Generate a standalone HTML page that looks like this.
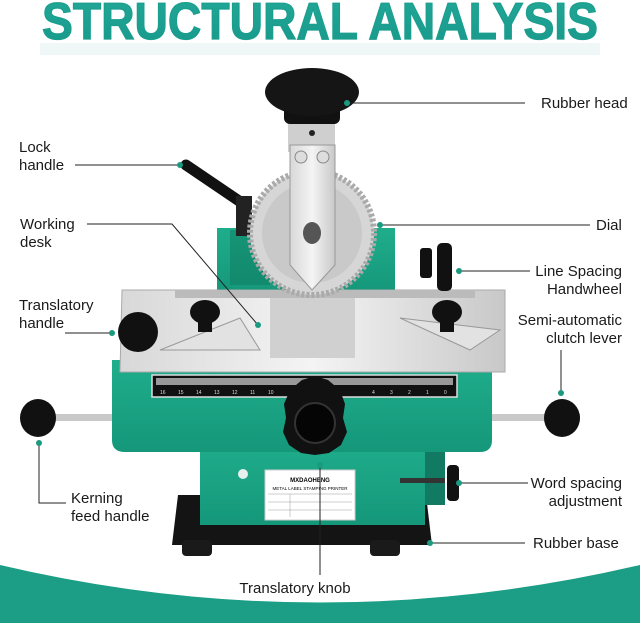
<!DOCTYPE html>
<html><head><meta charset="utf-8"><style>
html,body{margin:0;padding:0;background:#fff}
svg{display:block}
text{font-family:"Liberation Sans",sans-serif}
.l{font-size:15px;fill:#1a1a1a}
</style></head><body>
<svg width="640" height="623" viewBox="0 0 640 623" xmlns="http://www.w3.org/2000/svg">
<defs>
<linearGradient id="ti" x1="0" y1="0" x2="0" y2="1"><stop offset="0" stop-color="#22a898"/><stop offset="1" stop-color="#17988a"/></linearGradient>
<linearGradient id="sil" x1="0" y1="0" x2="1" y2="0"><stop offset="0" stop-color="#d8d8d8"/><stop offset=".5" stop-color="#f4f4f4"/><stop offset="1" stop-color="#c8c8c8"/></linearGradient>
<linearGradient id="gr" x1="0" y1="0" x2="0" y2="1"><stop offset="0" stop-color="#1fae8c"/><stop offset="1" stop-color="#15977a"/></linearGradient>
</defs>
<text x="320" y="39" text-anchor="middle" font-size="52" font-weight="bold" fill="url(#ti)" stroke="#1a9e8e" stroke-width="1.2" textLength="556" lengthAdjust="spacingAndGlyphs">STRUCTURAL ANALYSIS</text>
<rect x="40" y="43" width="560" height="12" fill="#e6f3f1" opacity=".6"/>
<path d="M0 565 Q320 640 640 565 L640 623 L0 623 Z" fill="#1b9e85"/>
<path d="M178 495 L426 495 L432 545 L172 545 Z" fill="#141414"/>
<rect x="182" y="540" width="30" height="16" rx="4" fill="#1a1a1a"/>
<rect x="370" y="540" width="30" height="16" rx="4" fill="#1a1a1a"/>
<rect x="200" y="440" width="225" height="85" fill="url(#gr)"/>
<rect x="425" y="445" width="20" height="60" fill="#127a62"/>
<circle cx="243" cy="474" r="5" fill="#e8f0ee"/>
<rect x="265" y="470" width="90" height="50" fill="#fff" stroke="#ccc"/>
<text x="310" y="482" text-anchor="middle" font-size="6" font-weight="bold">MXDAOHENG</text>
<text x="310" y="490" text-anchor="middle" font-size="4.5">METAL LABEL STAMPING PRINTER</text>
<g stroke="#999" stroke-width=".5"><line x1="268" y1="494" x2="352" y2="494"/><line x1="268" y1="502" x2="352" y2="502"/><line x1="268" y1="510" x2="352" y2="510"/><line x1="290" y1="494" x2="290" y2="517"/></g>
<rect x="40" y="414" width="540" height="7" fill="#c9c9c9"/>
<ellipse cx="38" cy="418" rx="18" ry="19" fill="#111"/>
<ellipse cx="562" cy="418" rx="18" ry="19" fill="#111"/>
<path d="M112 360 L492 360 L492 440 Q492 452 480 452 L125 452 Q112 452 112 440 Z" fill="url(#gr)"/>
<rect x="152" y="375" width="305" height="22" fill="#111" stroke="#ddd" stroke-width="1.5"/>
<rect x="156" y="378" width="297" height="7" fill="#999"/>
<g font-size="5" fill="#ddd"><text x="160" y="394">16</text><text x="178" y="394">15</text><text x="196" y="394">14</text><text x="214" y="394">13</text><text x="232" y="394">12</text><text x="250" y="394">11</text><text x="268" y="394">10</text><text x="372" y="394">4</text><text x="390" y="394">3</text><text x="408" y="394">2</text><text x="426" y="394">1</text><text x="444" y="394">0</text></g>
<rect x="217" y="228" width="178" height="64" fill="url(#gr)"/>
<rect x="230" y="230" width="40" height="55" fill="#0e7a60" opacity=".5"/>
<path d="M122 290 L505 290 L505 372 L120 372 Z" fill="url(#sil)" stroke="#aaa"/>
<rect x="175" y="290" width="300" height="8" fill="#bbb"/>
<rect x="270" y="298" width="85" height="60" fill="#d0d0d0"/>
<path d="M160 350 L260 350 L240 318 Z" fill="#e2e2e2" stroke="#999"/>
<path d="M400 318 L470 350 L500 330 Z" fill="#e2e2e2" stroke="#999"/>
<ellipse cx="205" cy="312" rx="15" ry="12" fill="#111"/><rect x="198" y="318" width="14" height="14" fill="#111"/>
<ellipse cx="447" cy="312" rx="15" ry="12" fill="#111"/><rect x="440" y="318" width="14" height="14" fill="#111"/>
<circle cx="138" cy="332" r="20" fill="#111"/>
<rect x="420" y="248" width="12" height="30" rx="3" fill="#111"/>
<rect x="437" y="243" width="15" height="48" rx="5" fill="#111"/>
<rect x="400" y="478" width="45" height="5" fill="#333"/>
<rect x="447" y="465" width="12" height="36" rx="4" fill="#111"/>
<line x1="186" y1="165" x2="245" y2="205" stroke="#111" stroke-width="11" stroke-linecap="round"/>
<rect x="236" y="196" width="16" height="40" fill="#222"/>
<circle cx="312" cy="233" r="62" fill="#d6d6d6" stroke="#aaa" stroke-dasharray="3 2" stroke-width="6"/>
<circle cx="312" cy="233" r="50" fill="#c9c9c9"/>
<rect x="288" y="122" width="47" height="30" fill="#cfcfcf"/>
<circle cx="312" cy="133" r="3" fill="#222"/>
<path d="M290 145 L335 145 L335 265 L312 290 L290 265 Z" fill="url(#sil)" stroke="#999"/>
<circle cx="301" cy="157" r="6" fill="#ddd" stroke="#888"/><circle cx="323" cy="157" r="6" fill="#ddd" stroke="#888"/>
<ellipse cx="312" cy="233" rx="9" ry="11" fill="#555"/>
<rect x="284" y="98" width="56" height="26" rx="6" fill="#111"/>
<ellipse cx="312" cy="92" rx="47" ry="24" fill="#151515"/>
<path d="M315 376 l13 4 l12 10 l5 14 l-2 14 l4 14 l-6 13 l-12 8 l-14 2 l-14 -2 l-12 -8 l-6 -13 l3 -14 l-2 -14 l6 -14 l12 -10 z" fill="#111"/>
<circle cx="315" cy="423" r="20" fill="#050505" stroke="#333" stroke-width="2"/>
<g stroke="#222" stroke-width="1" fill="none">
<line x1="347" y1="103" x2="525" y2="103"/>
<line x1="75" y1="165" x2="180" y2="165"/>
<polyline points="87,224 172,224 258,325"/>
<line x1="380" y1="225" x2="590" y2="225"/>
<line x1="459" y1="271" x2="530" y2="271"/>
<line x1="65" y1="333" x2="112" y2="333"/>
<line x1="561" y1="350" x2="561" y2="393"/>
<polyline points="39,443 39,503 66,503"/>
<line x1="459" y1="483" x2="528" y2="483"/>
<line x1="430" y1="543" x2="525" y2="543"/>
<line x1="320" y1="465" x2="320" y2="575"/>
</g>
<g fill="#1a9a7e">
<circle cx="347" cy="103" r="3"/><circle cx="180" cy="165" r="3"/><circle cx="258" cy="325" r="3"/>
<circle cx="380" cy="225" r="3"/><circle cx="459" cy="271" r="3"/><circle cx="112" cy="333" r="3"/>
<circle cx="561" cy="393" r="3"/><circle cx="39" cy="443" r="3"/><circle cx="459" cy="483" r="3"/>
<circle cx="430" cy="543" r="3"/><circle cx="320" cy="465" r="3"/>
</g>
<g>
<text x="541" y="108" class="l">Rubber head</text>
<text x="19" y="152" class="l">Lock</text><text x="19" y="170" class="l">handle</text>
<text x="20" y="229" class="l">Working</text><text x="20" y="247" class="l">desk</text>
<text x="596" y="230" class="l">Dial</text>
<text x="622" y="276" text-anchor="end" class="l">Line Spacing</text><text x="622" y="294" text-anchor="end" class="l">Handwheel</text>
<text x="19" y="310" class="l">Translatory</text><text x="19" y="328" class="l">handle</text>
<text x="622" y="325" text-anchor="end" class="l">Semi-automatic</text><text x="622" y="343" text-anchor="end" class="l">clutch lever</text>
<text x="71" y="503" class="l">Kerning</text><text x="71" y="521" class="l">feed handle</text>
<text x="622" y="488" text-anchor="end" class="l">Word spacing</text><text x="622" y="506" text-anchor="end" class="l">adjustment</text>
<text x="533" y="548" class="l">Rubber base</text>
<text x="295" y="593" text-anchor="middle" class="l">Translatory knob</text>
</g>
</svg>
</body></html>
